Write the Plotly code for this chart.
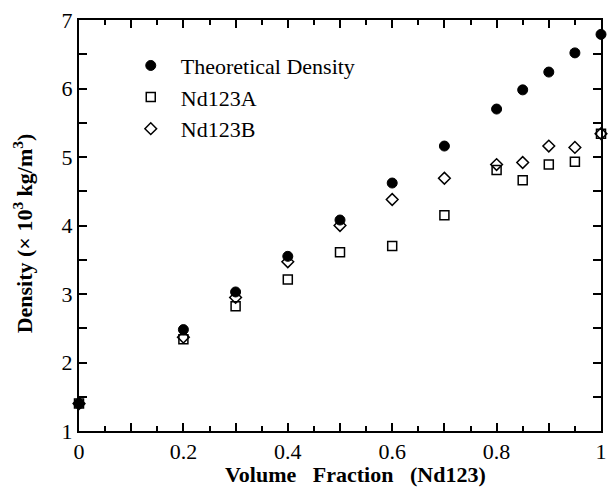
import plotly.graph_objects as go

volume_fraction = [0.0, 0.2, 0.3, 0.4, 0.5, 0.6, 0.7, 0.8, 0.85, 0.9, 0.95, 1.0]
theoretical = [1.40, 2.48, 3.03, 3.55, 4.08, 4.62, 5.16, 5.70, 5.98, 6.24, 6.52, 6.79]
nd123a = [1.40, 2.34, 2.82, 3.21, 3.61, 3.70, 4.15, 4.81, 4.66, 4.89, 4.93, 5.34]
nd123b = [1.40, 2.37, 2.95, 3.47, 4.00, 4.38, 4.69, 4.89, 4.92, 5.16, 5.14, 5.34]

x_tickvals = [0, 0.1, 0.2, 0.3, 0.4, 0.5, 0.6, 0.7, 0.8, 0.9, 1.0]
x_ticktext = ["0", "", "0.2", "", "0.4", "", "0.6", "", "0.8", "", "1"]
y_tickvals = [1, 2, 3, 4, 5, 6, 7]
y_ticktext = ["1", "2", "3", "4", "5", "6", "7"]

serif = "Liberation Serif"
NB = "\u00a0"

fig = go.Figure()
fig.add_trace(go.Scatter(
    x=volume_fraction, y=theoretical, mode="markers", name="Theoretical Density",
    marker=dict(symbol="circle", size=10, color="black", line=dict(color="black", width=1)),
    cliponaxis=False))
fig.add_trace(go.Scatter(
    x=volume_fraction, y=nd123a, mode="markers", name="Nd123A",
    marker=dict(symbol="square-open", size=9, color="black", line=dict(color="black", width=1.5)),
    cliponaxis=False))
fig.add_trace(go.Scatter(
    x=volume_fraction, y=nd123b, mode="markers", name="Nd123B",
    marker=dict(symbol="diamond-open", size=9, color="black", line=dict(color="black", width=1.5)),
    cliponaxis=False))

axis_common = dict(
    showgrid=False, zeroline=False, showline=True, linecolor="black", linewidth=2,
    mirror="ticks", ticks="inside", tickcolor="black", tickwidth=1.5,
    tickfont=dict(family=serif, size=22, color="black"),
    ticklabeloverflow="allow",
)

x_title = "<b>Volume" + NB * 3 + "Fraction" + NB * 3 + "(Nd123)</b>"
y_title = "<b>Density (× 10<sup>3</sup> kg/m<sup>3</sup>)</b>"

fig.update_xaxes(
    range=[0, 1], tickmode="array", tickvals=x_tickvals, ticktext=x_ticktext, ticklen=8,
    minor=dict(dtick=0.05, ticks="inside", ticklen=5, tickcolor="black", tickwidth=1.5, showgrid=False),
    **axis_common)
fig.update_yaxes(
    range=[1, 7], tickmode="array", tickvals=y_tickvals, ticktext=y_ticktext, ticklen=8,
    minor=dict(dtick=0.5, ticks="inside", ticklen=8, tickcolor="black", tickwidth=1.5, showgrid=False),
    **axis_common)

fig.add_annotation(
    text=x_title, xref="paper", yref="paper", x=0.53, y=-0.105,
    xanchor="center", yanchor="middle", showarrow=False,
    font=dict(family=serif, size=22, color="black"))
fig.add_annotation(
    text=y_title, xref="paper", yref="paper", x=-0.108, y=0.48, textangle=-90,
    xanchor="center", yanchor="middle", showarrow=False,
    font=dict(family=serif, size=22, color="black"))

fig.update_layout(
    width=615, height=493,
    margin=dict(l=79, r=8, t=16, b=62),
    paper_bgcolor="white", plot_bgcolor="white",
    showlegend=True,
    legend=dict(x=0.08, y=0.94, xanchor="left", yanchor="top",
                font=dict(family=serif, size=22, color="black"),
                bgcolor="rgba(0,0,0,0)", tracegroupgap=0, itemwidth=50),
)

fig.write_html("out.html", config={"displayModeBar": False},
               post_script="document.body.style.margin='0';document.body.style.overflow='hidden';")
